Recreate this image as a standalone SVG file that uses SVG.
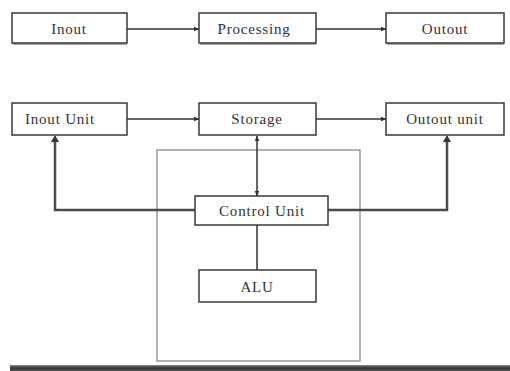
<svg xmlns="http://www.w3.org/2000/svg" width="510" height="371" viewBox="0 0 510 371">
<defs>
<style>
.box{fill:#fff;stroke:#3a3a3a;stroke-width:1.5}
.shadow{fill:none;stroke:#aaa;stroke-width:2}
.lbl{font-family:"Liberation Serif","Times New Roman","DejaVu Serif",serif;font-size:15px;letter-spacing:0.8px;fill:#333;text-anchor:middle}
.ln{fill:none;stroke:#333;stroke-width:1.5}
.thick{fill:none;stroke:#4a4a4a;stroke-width:2.5}
</style>
<marker id="ah" viewBox="0 0 10 10" refX="9" refY="5" markerWidth="6" markerHeight="6" orient="auto-start-reverse" markerUnits="userSpaceOnUse">
<path d="M0,1 L10,5 L0,9 z" fill="#333"/>
</marker>
<linearGradient id="bar" x1="0" y1="0" x2="0" y2="1">
<stop offset="0" stop-color="#888"/>
<stop offset="0.5" stop-color="#333"/>
<stop offset="1" stop-color="#555"/>
</linearGradient>
</defs>
<rect width="510" height="371" fill="#fff"/>
<rect id="cpu-frame" x="157" y="150" width="203" height="211" fill="none" stroke="#999" stroke-width="1.5"/>
<g id="connectors">
<line class="ln" x1="127" y1="29" x2="199" y2="29" marker-end="url(#ah)"/>
<line class="ln" x1="316" y1="29" x2="386" y2="29" marker-end="url(#ah)"/>
<line class="ln" x1="127" y1="119" x2="199" y2="119" marker-end="url(#ah)"/>
<line class="ln" x1="316" y1="119" x2="386" y2="119" marker-end="url(#ah)"/>
<line class="ln" x1="257" y1="136" x2="257" y2="196" marker-start="url(#ah)" marker-end="url(#ah)"/>
<line class="ln" x1="257" y1="225" x2="257" y2="270"/>
<polyline class="thick" points="195,210 55,210 55,140"/>
<polyline class="thick" points="328,210 447,210 447,140"/>
<path d="M51,142 L55,135 L59,142 z" fill="#333"/>
<path d="M443,142 L447,135 L451,142 z" fill="#333"/>
</g>
<g id="inout">
<line class="shadow" x1="13" y1="44" x2="127" y2="44"/>
<rect class="box" x="12" y="13" width="115" height="30"/>
<text class="lbl" x="69" y="34">Inout</text>
</g>
<g id="processing">
<line class="shadow" x1="200" y1="44" x2="316" y2="44"/>
<rect class="box" x="199" y="13" width="117" height="30"/>
<text class="lbl" x="254" y="34">Processing</text>
</g>
<g id="outout">
<line class="shadow" x1="387" y1="44" x2="504" y2="44"/>
<rect class="box" x="386" y="13" width="118" height="30"/>
<text class="lbl" x="445" y="34">Outout</text>
</g>
<g id="input-unit">
<rect class="box" x="12" y="103" width="115" height="32"/>
<text class="lbl" x="60" y="124">Inout Unit</text>
</g>
<g id="storage">
<rect class="box" x="199" y="103" width="117" height="32"/>
<text class="lbl" x="257" y="124">Storage</text>
</g>
<g id="output-unit">
<rect class="box" x="386" y="103" width="118" height="32"/>
<text class="lbl" x="445" y="124">Outout unit</text>
</g>
<g id="control-unit">
<rect class="box" x="195" y="196" width="133" height="29"/>
<text class="lbl" x="262" y="216">Control Unit</text>
</g>
<g id="alu">
<rect class="box" x="199" y="270" width="117" height="32"/>
<text class="lbl" x="257" y="292">ALU</text>
</g>
<rect x="10" y="365" width="500" height="6" fill="url(#bar)"/>
</svg>
